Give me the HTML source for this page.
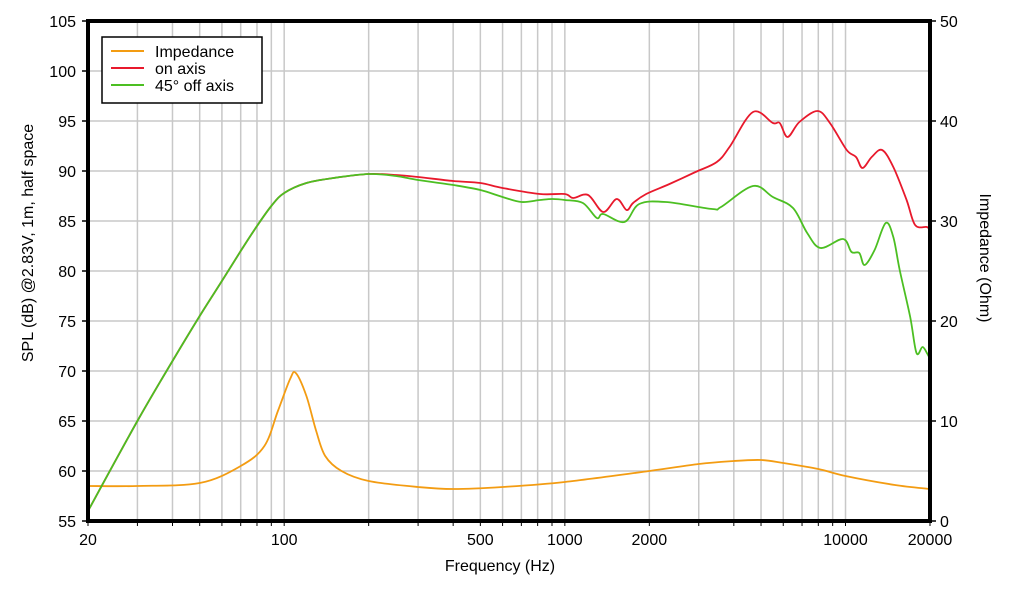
<!DOCTYPE html>
<html><head><meta charset="utf-8"><style>
body{margin:0;background:#fff;}
svg text{font-family:"Liberation Sans",Arial,sans-serif;fill:#000;}
</style></head><body>
<svg id="chart" width="1024" height="604" viewBox="0 0 1024 604" xmlns="http://www.w3.org/2000/svg">
<g id="grid"></g>
<g id="series"></g>
<g id="axes"></g>
<text x="500" y="571" font-size="16" text-anchor="middle">Frequency (Hz)</text>
<text transform="translate(33,243) rotate(-90)" font-size="16" text-anchor="middle">SPL (dB) @2.83V, 1m, half space</text>
<text transform="translate(980,258) rotate(90)" font-size="16" text-anchor="middle">Impedance (Ohm)</text>
<g>
<rect x="102" y="37" width="160" height="66" fill="#fff" stroke="#000" stroke-width="1.5"/>
<line x1="111" y1="51" x2="144" y2="51" stroke="#f39c12" stroke-width="2"/>
<text x="155" y="57" font-size="16">Impedance</text>
<line x1="111" y1="68" x2="144" y2="68" stroke="#e8192c" stroke-width="2"/>
<text x="155" y="74" font-size="16">on axis</text>
<line x1="111" y1="85" x2="144" y2="85" stroke="#4cbf22" stroke-width="2"/>
<text x="155" y="91" font-size="16">45° off axis</text>
</g>
</svg>
<script>
const xTickLabels=[20,100,500,1000,2000,10000,20000];
const yLeftTicks=[55,60,65,70,75,80,85,90,95,100,105];
const yRightTicks=[0,10,20,30,40,50];
const impFreq=[20,30,50,70,85,95,105,110,120,130,140,160,200,300,400,600,1000,2000,3000,4000,5000,6000,8000,10000,15000,20000];
const impOhm=[3.5,3.5,3.8,5.5,7.5,11,14.2,14.8,12.5,9,6.5,5,4,3.4,3.2,3.4,3.9,5,5.7,6.0,6.1,5.8,5.2,4.5,3.6,3.2];
const onFreq=[20,30,40,50,60,70,80,90,100,120,150,200,250,300,400,500,600,815,1000,1070,1210,1370,1530,1660,1750,1950,2360,2920,3480,3860,4680,5510,5830,6220,6850,7950,8800,10100,10900,11500,12400,13500,14800,16500,17700,19500,20000];
const onDb=[56,65,71,75.5,79,82,84.5,86.5,87.8,88.8,89.3,89.7,89.6,89.4,89,88.8,88.3,87.7,87.7,87.3,87.6,85.9,87.2,86.1,86.8,87.7,88.7,89.9,90.9,92.4,95.9,94.8,94.8,93.4,94.9,96.0,94.8,92.1,91.4,90.3,91.4,92.1,90.4,87.1,84.6,84.4,84.1];
const offFreq=[20,30,40,50,60,70,80,90,100,120,150,200,250,300,400,500,600,700,815,904,1000,1160,1300,1370,1630,1840,2290,3350,3600,4680,5510,6500,7300,8150,9800,10500,11200,11700,12700,13900,14800,15600,17000,17900,18800,19500,20000];
const offDb=[56,65,71,75.5,79,82,84.5,86.5,87.8,88.8,89.3,89.7,89.5,89.1,88.6,88.1,87.4,86.9,87.1,87.2,87.1,86.8,85.3,85.7,84.9,86.7,86.9,86.2,86.4,88.5,87.4,86.3,83.8,82.3,83.2,81.9,81.8,80.6,82.1,84.8,83.4,80.1,75.4,71.8,72.4,71.8,71.2];

const X0=88,X1=930,Y0=521,Y1=21;
const xs=f=>X0+(Math.log10(f/20)/3)*(X1-X0);
const yL=d=>Y0-(d-55)/50*(Y0-Y1);
const yR=o=>Y0-o/50*(Y0-Y1);
const NS='http://www.w3.org/2000/svg';
function mk(tag,attrs,parent){const e=document.createElementNS(NS,tag);for(const k in attrs)e.setAttribute(k,attrs[k]);parent.appendChild(e);return e;}
const grid=document.getElementById('grid'),axes=document.getElementById('axes'),ser=document.getElementById('series');
// vertical grid
for(let dec=10;dec<=10000;dec*=10){for(let m=1;m<10;m++){const f=dec*m;if(f<20||f>20000)continue;
const l=mk('line',{x1:xs(f),x2:xs(f),y1:Y1,y2:Y0,stroke:'#c8c8c8','stroke-width':1.5},grid);


const t=mk('line',{x1:xs(f),x2:xs(f),y1:Y0,y2:Y0+5,stroke:'#000','stroke-width':1},axes);

}}
yLeftTicks.forEach(d=>{
const l=mk('line',{x1:X0,x2:X1,y1:yL(d),y2:yL(d),stroke:'#c8c8c8','stroke-width':1.5},grid);


const t=mk('line',{x1:X0-6,x2:X0,y1:yL(d),y2:yL(d),stroke:'#000','stroke-width':1.5},axes);


const tx=mk('text',{x:X0-12,y:yL(d)+6,'font-size':16,'text-anchor':'end'},axes);tx.textContent=d;

});
yRightTicks.forEach(o=>{
const t=mk('line',{x1:X1,x2:X1+6,y1:yR(o),y2:yR(o),stroke:'#000','stroke-width':1.5},axes);


const tx=mk('text',{x:X1+10,y:yR(o)+6,'font-size':16},axes);tx.textContent=o;

});
xTickLabels.forEach(f=>{
const tx=mk('text',{x:xs(f),y:Y0+24,'font-size':16,'text-anchor':'middle'},axes);tx.textContent=f;

});
const fr=mk('path',{d:`M${X0},${Y1}H${X1}V${Y0}H${X0}Z`,fill:'none',stroke:'#000','stroke-width':4},axes);


function smooth(pts){let d=`M${pts[0][0].toFixed(1)},${pts[0][1].toFixed(1)}`;
for(let i=0;i<pts.length-1;i++){const p0=pts[Math.max(0,i-1)],p1=pts[i],p2=pts[i+1],p3=pts[Math.min(pts.length-1,i+2)];
const c1=[p1[0]+(p2[0]-p0[0])/6,p1[1]+(p2[1]-p0[1])/6],c2=[p2[0]-(p3[0]-p1[0])/6,p2[1]-(p3[1]-p1[1])/6];
d+=`C${c1[0].toFixed(1)},${c1[1].toFixed(1)} ${c2[0].toFixed(1)},${c2[1].toFixed(1)} ${p2[0].toFixed(1)},${p2[1].toFixed(1)}`;}return d;}
const p1=mk('path',{d:smooth(impFreq.map((f,i)=>[xs(f),yR(impOhm[i])])),fill:'none',stroke:'#f39c12','stroke-width':1.8},ser);


const p2=mk('path',{d:smooth(onFreq.map((f,i)=>[xs(f),yL(onDb[i])])),fill:'none',stroke:'#e8192c','stroke-width':1.8},ser);


const p3=mk('path',{d:smooth(offFreq.map((f,i)=>[xs(f),yL(offDb[i])])),fill:'none',stroke:'#4cbf22','stroke-width':1.8},ser);


</script>
</body></html>
